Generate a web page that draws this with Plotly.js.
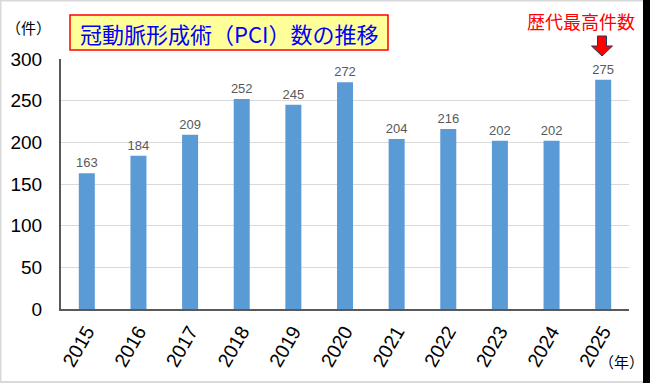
<!DOCTYPE html>
<html>
<head>
<meta charset="utf-8">
<script src="https://cdn.plot.ly/plotly-3.0.1.min.js"></script>
<style>html,body{margin:0;padding:0;background:#fff;}#chart{width:650px;height:383px;}</style>
</head>
<body>
<div id="chart"></div>
<script>
const years = ['2015','2016','2017','2018','2019','2020','2021','2022','2023','2024','2025'];
const counts = [163,184,209,252,245,272,204,216,202,202,275];
const titleText = '冠動脈形成術（PCI）数の推移';
const yUnit = '（件）';
const xUnit = '（年）';
const recordText = '歴代最高件数';

const W = 650, H = 383, L = 61, R = 21, T = 59, B = 74;
const pw = W - L - R, ph = H - T - B;
const px = v => (v - L) / pw;
const py = v => (H - B - v) / ph;
const CJK = '"Noto Sans CJK JP", "Noto Sans", sans-serif';
const LAT = '"Liberation Sans", Arial, sans-serif';

const trace = {
  type: 'bar', x: years, y: counts,
  marker: {color: '#5B9BD5'},
  text: counts.map(String), textposition: 'outside', cliponaxis: false,
  constraintext: 'none',
  textfont: {family: LAT, size: 13, color: '#595959'},
  hoverinfo: 'none'
};

function arrowPath(cx, top, shaftW, headW, headTop, tip) {
  const p = [[cx-shaftW/2, top],[cx+shaftW/2, top],[cx+shaftW/2, headTop],[cx+headW/2, headTop],[cx, tip],[cx-headW/2, headTop],[cx-shaftW/2, headTop]];
  return 'M' + p.map(q => px(q[0]).toFixed(5) + ',' + py(q[1]).toFixed(5)).join(' L') + ' Z';
}

const layout = {
  width: W, height: H,
  margin: {l: L, r: R, t: T, b: B, pad: 0},
  paper_bgcolor: '#ffffff', plot_bgcolor: '#ffffff',
  bargap: 0.69,
  showlegend: false,
  xaxis: {
    type: 'category', tickangle: -60,
    tickfont: {family: LAT, size: 19.5, color: '#000'},
    showline: true, linecolor: '#595959', linewidth: 1.5,
    ticks: '', showgrid: false, fixedrange: true, ticklabelstandoff: 2
  },
  yaxis: {
    range: [0, 300], dtick: 50,
    tickfont: {family: LAT, size: 19, color: '#000'},
    showline: true, linecolor: '#595959', linewidth: 2,
    gridcolor: '#d9d9d9', gridwidth: 1, ticks: '', zeroline: false,
    ticklabelstandoff: 13, fixedrange: true
  },
  shapes: [
    {type: 'rect', xref: 'paper', yref: 'paper', x0: px(70), x1: px(388), y0: py(50), y1: py(15),
     fillcolor: '#FFFF99', line: {color: '#FF0000', width: 1.5}},
    {type: 'path', xref: 'paper', yref: 'paper', path: arrowPath(602, 36, 9, 21, 46, 56),
     fillcolor: '#FF0000', line: {color: '#203864', width: 1}},
    {type: 'rect', xref: 'paper', yref: 'paper', x0: px(643), x1: px(651), y0: py(384), y1: py(-1),
     fillcolor: '#000000', line: {width: 0}},
    {type: 'rect', xref: 'paper', yref: 'paper', x0: px(0), x1: px(1.5), y0: py(383), y1: py(0),
     fillcolor: '#d9d9d9', line: {width: 0}},
    {type: 'rect', xref: 'paper', yref: 'paper', x0: px(0), x1: px(643), y0: py(1.5), y1: py(0),
     fillcolor: '#d9d9d9', line: {width: 0}},
    {type: 'rect', xref: 'paper', yref: 'paper', x0: px(0), x1: px(643), y0: py(383), y1: py(381),
     fillcolor: '#d9d9d9', line: {width: 0}}
  ],
  annotations: [
    {xref: 'paper', yref: 'paper', x: px(229), y: py(33), text: titleText, showarrow: false,
     xanchor: 'center', yanchor: 'middle', font: {family: CJK, size: 22, color: '#0000FF'}},
    {xref: 'paper', yref: 'paper', x: px(28), y: py(27), text: yUnit, showarrow: false,
     xanchor: 'center', yanchor: 'middle', font: {family: CJK, size: 15, color: '#000'}},
    {xref: 'paper', yref: 'paper', x: px(581), y: py(21), text: recordText, showarrow: false,
     xanchor: 'center', yanchor: 'middle', font: {family: CJK, size: 18, color: '#FF0000'}},
    {xref: 'paper', yref: 'paper', x: px(621), y: py(361), text: xUnit, showarrow: false,
     xanchor: 'center', yanchor: 'middle', font: {family: CJK, size: 15, color: '#000'}}
  ]
};

Plotly.newPlot('chart', [trace], layout, {displayModeBar: false, staticPlot: true});
</script>
</body>
</html>
